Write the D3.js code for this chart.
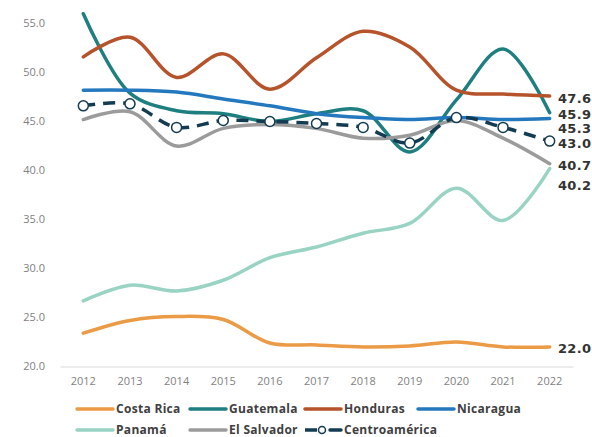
<!DOCTYPE html>
<html><head><meta charset="utf-8">
<script src="https://cdn.jsdelivr.net/npm/d3@7"></script>
<style>
html,body{margin:0;padding:0;background:#fff;}
svg{display:block;font-family:"Open Sans",sans-serif;}
</style></head>
<body><svg id="c" width="592" height="437"></svg>
<script>
const years = [2012,2013,2014,2015,2016,2017,2018,2019,2020,2021,2022];
const seriesNames = ["Costa Rica","Guatemala","Honduras","Nicaragua","Panamá","El Salvador","Centroamérica"];
const costaRica   = [23.4,24.7,25.1,24.8,22.4,22.2,22.0,22.1,22.5,22.0,22.0];
const guatemala   = [56.0,47.9,46.1,45.8,45.0,45.8,46.1,41.9,47.2,52.4,45.9];
const honduras    = [51.6,53.6,49.5,51.9,48.3,51.5,54.2,52.6,48.2,47.8,47.6];
const nicaragua   = [48.2,48.2,48.0,47.3,46.6,45.8,45.4,45.2,45.4,45.2,45.3];
const panama      = [26.7,28.3,27.7,28.8,31.1,32.2,33.6,34.6,38.2,34.9,40.2];
const elSalvador  = [45.2,46.0,42.5,44.3,44.7,44.3,43.3,43.6,45.1,43.3,40.7];
const centroam    = [46.6,46.8,44.4,45.1,45.0,44.8,44.4,42.8,45.4,44.4,43.0];
const yTicks = [20,25,30,35,40,45,50,55];

const colors = ["#EB9B45","#1F7F80","#B6532B","#2479BE","#98D3C3","#9B9B9B","#133B51"];
const values = [costaRica,guatemala,honduras,nicaragua,panama,elSalvador,centroam];
const series = seriesNames.map((n,i)=>({name:n,values:values[i],color:colors[i]}));

const svg = d3.select("#c");
const x = d3.scaleBand().domain(years).range([60,573]);
const y = d3.scaleLinear().domain([20,55]).range([366.5,23.5]);
const cx = d => x(d)+x.bandwidth()/2;

// y tick labels
svg.append("g").selectAll("text").data(yTicks).join("text")
  .attr("x",45).attr("y",d=>y(d)).attr("dy","0.35em")
  .attr("text-anchor","end").attr("fill","#7f7f7f").attr("font-size",11)
  .text(d=>d.toFixed(1));
// x axis
const xa = svg.append("g").attr("transform","translate(0,366.5)")
  .call(d3.axisBottom(x).tickSize(0).tickPadding(11));
xa.select(".domain").attr("stroke","#d9d9d9").attr("stroke-width",1);
xa.selectAll("text").attr("fill","#7f7f7f").attr("font-size",11).attr("font-family","'Open Sans',sans-serif");

const line = d3.line().x((d,i)=>cx(years[i])).y(d=>y(d)).curve(d3.curveCatmullRom.alpha(0.5));
const g = svg.append("g");
series.forEach((s,i)=>{
  const p = g.append("path").attr("d",line(s.values)).attr("fill","none")
    .attr("stroke",s.color).attr("stroke-width",3.5).attr("stroke-linecap","round");
  if(s.name==="Centroamérica"){
    p.attr("stroke-dasharray","12,8").attr("stroke-linecap","butt");
    g.append("g").selectAll("circle").data(s.values).join("circle")
      .attr("cx",(d,j)=>cx(years[j])).attr("cy",d=>y(d)).attr("r",5)
      .attr("fill","#fff").attr("stroke",s.color).attr("stroke-width",1.5);
  }
});

// end labels with collision avoidance
const ends = series.map(s=>({v:s.values[s.values.length-1],yy:y(s.values[s.values.length-1])}))
  .sort((a,b)=>a.yy-b.yy);
for(let i=1;i<ends.length;i++){
  if(ends[i].yy-ends[i-1].yy<14) ends[i].yy=ends[i-1].yy+14;
}
ends[ends.length-2].yy += 6;
svg.append("g").selectAll("text").data(ends).join("text")
  .attr("x",558).attr("y",d=>d.yy+2).attr("dy","0.35em")
  .attr("fill","#333").attr("font-size",13).attr("font-weight",700)
  .attr("font-family","'DejaVu Sans',sans-serif")
  .attr("letter-spacing","0.3px")
  .text(d=>d.v.toFixed(1));

// legend
const legX = [77,190,305,418];
const leg = svg.append("g");
series.forEach((s,i)=>{
  const row = Math.floor(i/4), col = i%4;
  const lx = legX[col], ly = 409 + row*21;
  const it = leg.append("g").attr("transform",`translate(${lx},${ly})`);
  if(s.name==="Centroamérica"){
    it.append("line").attr("x1",0).attr("x2",12).attr("y1",0).attr("y2",0)
      .attr("stroke",s.color).attr("stroke-width",3.5);
    it.append("circle").attr("cx",17).attr("cy",0).attr("r",3.5)
      .attr("fill","#fff").attr("stroke",s.color).attr("stroke-width",1.5);
    it.append("line").attr("x1",25).attr("x2",36).attr("y1",0).attr("y2",0)
      .attr("stroke",s.color).attr("stroke-width",3.5).attr("stroke-linecap","round");
  } else {
    it.append("line").attr("x1",0).attr("x2",36).attr("y1",0).attr("y2",0)
      .attr("stroke",s.color).attr("stroke-width",3.5).attr("stroke-linecap","round");
  }
  it.append("text").attr("x",39).attr("y",0).attr("dy","0.35em")
    .attr("fill","#404040").attr("font-size",12).attr("font-weight",700)
    .attr("letter-spacing","0.3px").text(s.name);
});
</script></body></html>
